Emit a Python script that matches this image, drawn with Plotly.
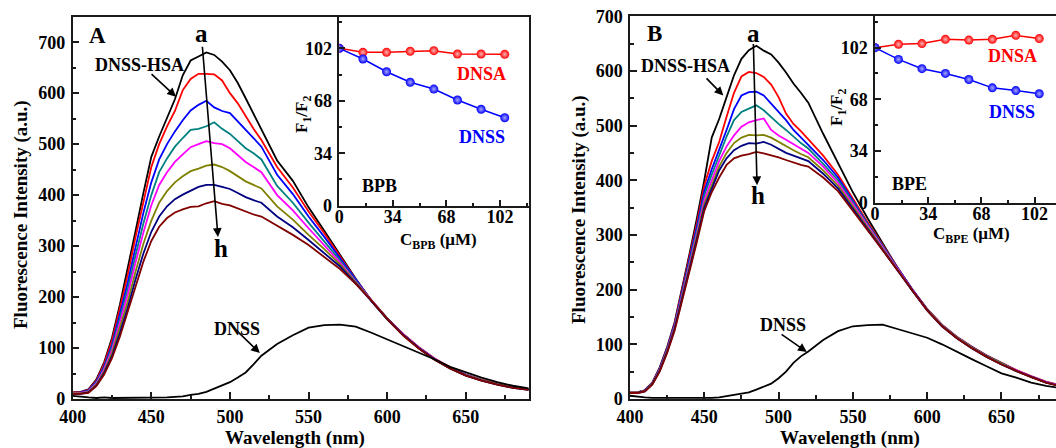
import plotly.graph_objects as go

# ---------------- data ----------------
WAVELENGTH = [400, 405, 410, 415, 420, 425, 430, 435, 440, 445, 450, 455, 460, 465, 470, 475,
              480, 485, 490, 495, 500, 505, 510, 515, 520,
              530, 540, 550, 560, 570, 580, 590, 600, 610, 620, 630, 640, 650, 660, 670, 680, 690]

CURVE_LABELS = ["a", "b", "c", "d", "e", "f", "g", "h"]

# Panel A (BPB) spectra a..h and free DNSS
A_a = [13,14,19,38,72,120,185,255,330,405,475,515,550,588,635,664,672,680,675,662,645,620,590,560,530,468,428,376,330,283,236,192,156,126,100,78,60,47,37,29,23,19]
A_b = [13,13,18,36,69,115,178,244,318,390,455,500,535,565,606,628,638,638,637,625,600,580,555,530,508,455,415,368,325,280,235,193,158,128,102,80,62,48,38,30,24,20]
A_c = [12,13,17,34,64,107,167,228,298,366,425,470,500,525,547,566,577,585,572,565,561,545,530,512,495,440,402,358,318,276,234,193,158,127,101,79,61,48,37,29,23,19]
A_d = [12,12,16,32,61,102,158,216,282,345,400,445,472,495,512,528,530,535,543,530,520,505,492,482,470,418,385,346,310,272,232,193,158,127,101,79,61,47,37,29,23,19]
A_e = [11,12,15,30,58,96,150,205,268,327,380,420,445,465,480,494,500,506,502,500,492,478,465,455,445,400,370,335,302,268,230,193,158,127,101,79,61,47,37,29,23,19]
A_f = [11,11,14,28,54,90,140,191,250,305,350,385,408,425,437,447,452,458,460,455,447,437,427,420,413,378,352,322,294,264,228,193,158,126,100,78,60,47,37,29,23,19]
A_g = [10,10,13,26,51,84,130,179,235,286,328,358,378,392,401,408,416,420,420,416,412,404,396,390,385,358,337,312,286,260,227,193,157,126,100,78,60,46,36,28,22,18]
A_h = [10,10,12,25,48,80,122,170,222,270,310,338,355,366,372,377,378,384,388,383,380,374,368,362,358,340,322,302,278,255,226,193,157,125,99,77,60,46,36,28,22,18]
A_DNSS = [6,4,3,2,3,2,2,2,3,2,3,3,3,4,5,8,10,14,20,26,33,42,52,68,85,108,125,140,145,146,142,130,117,105,92,78,63,52,42,33,26,21]

# Panel B (BPE) spectra a..h and free DNSS
B_a = [11,12,16,30,58,95,140,200,265,330,400,478,512,552,592,622,638,646,637,630,615,597,577,560,542,485,430,378,330,285,240,200,163,134,112,94,78,64,52,41,31,24]
B_b = [11,12,16,30,57,93,138,197,260,322,390,435,470,516,560,590,598,596,589,575,552,522,503,490,475,445,410,366,323,282,240,200,165,136,114,96,80,66,53,42,32,25]
B_c = [12,12,16,29,56,92,136,193,255,315,380,420,455,492,530,555,561,562,555,540,525,510,492,478,465,437,405,362,320,280,239,200,164,135,113,95,79,65,52,41,31,24]
B_d = [12,12,15,29,55,90,134,190,250,308,372,410,445,480,510,525,531,537,528,515,503,492,480,468,458,430,400,360,318,279,238,199,164,135,113,95,79,65,52,41,31,24]
B_e = [12,12,15,28,54,89,132,187,246,302,364,400,435,462,482,498,506,510,513,492,482,474,466,458,450,425,395,356,316,278,238,199,163,134,112,94,78,64,52,41,31,24]
B_f = [12,12,15,28,53,88,130,184,242,297,356,392,425,450,468,478,483,482,483,478,470,462,455,448,442,418,390,352,313,276,237,198,163,134,112,94,78,64,51,40,30,23]
B_g = [11,11,14,27,52,86,128,181,238,292,350,385,418,440,455,463,468,467,470,465,458,450,445,440,435,412,385,348,310,274,236,198,162,133,111,93,77,63,51,40,30,23]
B_h = [11,11,14,26,50,84,125,178,234,287,344,378,405,428,440,445,448,452,449,446,442,437,432,428,425,405,380,345,308,272,235,197,162,133,111,93,77,63,51,40,30,23]
B_DNSS = [6,4,3,2,2,2,1,1,1,1,2,2,3,5,7,9,12,17,22,28,38,50,66,78,87,108,124,133,135,136,128,120,112,100,86,73,60,47,39,30,24,20]

# Insets: F1/F2 vs concentration (uM)
CONC = [0, 15, 30, 45, 60, 75, 90, 105]
A_RATIO_DNSA = [102.0, 99.4, 99.4, 100.1, 100.5, 98.3, 98.3, 98.1]
A_RATIO_DNSS = [102.0, 95.1, 86.8, 80.0, 75.6, 68.5, 62.5, 57.0]
B_RATIO_DNSA = [101.9, 104.1, 104.6, 107.4, 106.9, 107.4, 110.0, 107.9]
B_RATIO_DNSS = [101.9, 94.2, 88.1, 85.0, 81.0, 75.5, 73.7, 71.6]

MAIN_TICKS_X = [400, 450, 500, 550, 600, 650]
MAIN_TICKS_Y = [0, 100, 200, 300, 400, 500, 600, 700]
INSET_TICKS = [0, 34, 68, 102]
INSET_MINOR = [17, 51, 85, 119]

# ---------------- styling ----------------
FIG_W, FIG_H = 1056, 448
COLORS = ["#000000", "#ff0000", "#0000ff", "#008080", "#ff00ff", "#808000", "#000080", "#800000"]
FONT = "Liberation Serif, Times New Roman, serif"
AXC = "#1a1a1a"


def px(x):
    return x / FIG_W


def py(y):
    return 1 - y / FIG_H


fig = go.Figure()

for series, col, lab in zip([A_a, A_b, A_c, A_d, A_e, A_f, A_g, A_h], COLORS, CURVE_LABELS):
    fig.add_trace(go.Scatter(x=WAVELENGTH, y=series, mode="lines", name="A-" + lab,
                             line=dict(color=col, width=1.8), xaxis="x", yaxis="y", showlegend=False))
fig.add_trace(go.Scatter(x=WAVELENGTH, y=A_DNSS, mode="lines", name="A-DNSS",
                         line=dict(color="#000000", width=1.8), xaxis="x", yaxis="y", showlegend=False))

for series, col, lab in zip([B_a, B_b, B_c, B_d, B_e, B_f, B_g, B_h], COLORS, CURVE_LABELS):
    fig.add_trace(go.Scatter(x=WAVELENGTH, y=series, mode="lines", name="B-" + lab,
                             line=dict(color=col, width=1.8), xaxis="x3", yaxis="y3", showlegend=False))
fig.add_trace(go.Scatter(x=WAVELENGTH, y=B_DNSS, mode="lines", name="B-DNSS",
                         line=dict(color="#000000", width=1.8), xaxis="x3", yaxis="y3", showlegend=False))


def ratio_trace(y, col, hl, xa, ya, name):
    return go.Scatter(x=CONC, y=y, mode="lines+markers", name=name, xaxis=xa, yaxis=ya, showlegend=False,
                      line=dict(color=col, width=1.5),
                      marker=dict(size=9, color=col, line=dict(width=0),
                                  gradient=dict(type="radial", color=hl)))


fig.add_trace(ratio_trace(A_RATIO_DNSA, "#ff0000", "#ffb4b4", "x2", "y2", "A-DNSA"))
fig.add_trace(ratio_trace(A_RATIO_DNSS, "#0000ff", "#a8a8ff", "x2", "y2", "A-DNSS"))
fig.add_trace(ratio_trace(B_RATIO_DNSA, "#ff0000", "#ffb4b4", "x4", "y4", "B-DNSA"))
fig.add_trace(ratio_trace(B_RATIO_DNSS, "#0000ff", "#a8a8ff", "x4", "y4", "B-DNSS"))

tickfont = dict(family=FONT, size=18, color="#000000", weight="bold")


def axis(domain, rng, tickvals, minor_vals, anchor, mirror=True, ticklen=7, minorlen=4, standoff=2):
    return dict(domain=domain, range=rng, anchor=anchor, tickmode="array", tickvals=tickvals,
                ticks="inside", ticklen=ticklen, tickwidth=1.5, tickcolor=AXC,
                minor=dict(tickmode="array", tickvals=minor_vals, ticks="inside", ticklen=minorlen,
                           tickwidth=1.5, tickcolor=AXC),
                showline=True, linecolor=AXC, linewidth=1.5, mirror=mirror, automargin=False,
                showgrid=False, zeroline=False, tickfont=tickfont, ticklabelstandoff=standoff,
                fixedrange=True)


main_minor_x = [425, 475, 525, 575, 625, 675]
main_minor_y = [50, 150, 250, 350, 450, 550, 650, 750]

fig.update_layout(
    width=FIG_W, height=FIG_H, margin=dict(l=0, r=0, t=0, b=0, autoexpand=False),
    paper_bgcolor="#ffffff", plot_bgcolor="rgba(0,0,0,0)",
    xaxis=axis([px(72.7), px(528.7)], [400, 690], MAIN_TICKS_X, main_minor_x, "y", standoff=1),
    yaxis=axis([py(399), py(16.7)], [0, 750], MAIN_TICKS_Y, main_minor_y, "x", standoff=2),
    xaxis2=axis([px(339.3), px(528.7)], [0, 120.2], INSET_TICKS, INSET_MINOR, "y2", ticklen=6, minorlen=3, standoff=-6),
    yaxis2=axis([py(205.7), py(16.7)], [0, 122.5], INSET_TICKS, INSET_MINOR, "x2", ticklen=6, minorlen=3),
    xaxis3=axis([px(630), 1.0], [400, 686.7], MAIN_TICKS_X, main_minor_x, "y3", standoff=1),
    yaxis3=axis([py(399), py(16.2)], [0, 700], MAIN_TICKS_Y, main_minor_y[:-1], "x3", mirror=False, standoff=2),
    xaxis4=axis([px(875), 1.0], [0, 115.7], INSET_TICKS, INSET_MINOR, "y4", ticklen=6, minorlen=3, standoff=-6),
    yaxis4=axis([py(202.7), py(16.2)], [0, 122.6], INSET_TICKS, INSET_MINOR, "x4", mirror=False, ticklen=6, minorlen=3),
)


def label(text, x, y, size=18, color="#000000", angle=0):
    return dict(text=text, x=px(x), y=py(y), xref="paper", yref="paper", showarrow=False,
                xanchor="center", yanchor="middle", textangle=angle,
                font=dict(family=FONT, size=size, color=color, weight="bold"))


def arrow(xref, yref, x, y, ax, ay):
    return dict(text="", x=x, y=y, ax=ax, ay=ay, xref=xref, yref=yref, axref=xref, ayref=yref,
                showarrow=True, arrowhead=2, arrowsize=1.1, arrowwidth=1.6, arrowcolor="#000000")


annotations = [
    # panel A
    label("A", 97.5, 35.5, size=23),
    label("a", 201, 33, size=25),
    label("h", 221, 248, size=25),
    label("DNSS-HSA", 139, 64.5),
    label("DNSS", 236.5, 329),
    label("Fluorescence Intensity (a.u.)", 21, 215, size=19, angle=-90),
    label("Wavelength (nm)", 295, 438, size=19),
    label("BPB", 379, 186),
    label("DNSA", 481, 73.5, color="#ff0000"),
    label("DNSS", 482, 137, color="#0000ff"),
    label("C<sub>BPB</sub> (μM)", 438, 241, size=17),
    label("F<sub>1</sub>/F<sub>2</sub>", 303, 115, size=17, angle=-90),
    arrow("x", "y", 492.4, 318, 482.4, 694),
    arrow("x", "y", 465.7, 593, 449.2, 640),
    arrow("x", "y", 519, 90, 504, 135),
    # panel B
    label("B", 654.5, 33, size=23),
    label("a", 753, 34, size=25),
    label("h", 758, 195, size=25),
    label("DNSS-HSA", 685, 66),
    label("DNSS", 783, 325),
    label("Fluorescence Intensity (a.u.)", 579, 210, size=19, angle=-90),
    label("Wavelength (nm)", 850, 438, size=19),
    label("BPE", 909, 184),
    label("DNSA", 1012, 56, color="#ff0000"),
    label("DNSS", 1012, 112, color="#0000ff"),
    label("C<sub>BPE</sub> (μM)", 971, 235, size=17),
    label("F<sub>1</sub>/F<sub>2</sub>", 838, 108, size=17, angle=-90),
    arrow("x3", "y3", 485.5, 391, 483, 652),
    arrow("x3", "y3", 462.8, 555, 450.5, 589),
    arrow("x3", "y3", 519, 86, 501, 120),
]
fig.update_layout(annotations=annotations)

fig.write_html("out.html")
